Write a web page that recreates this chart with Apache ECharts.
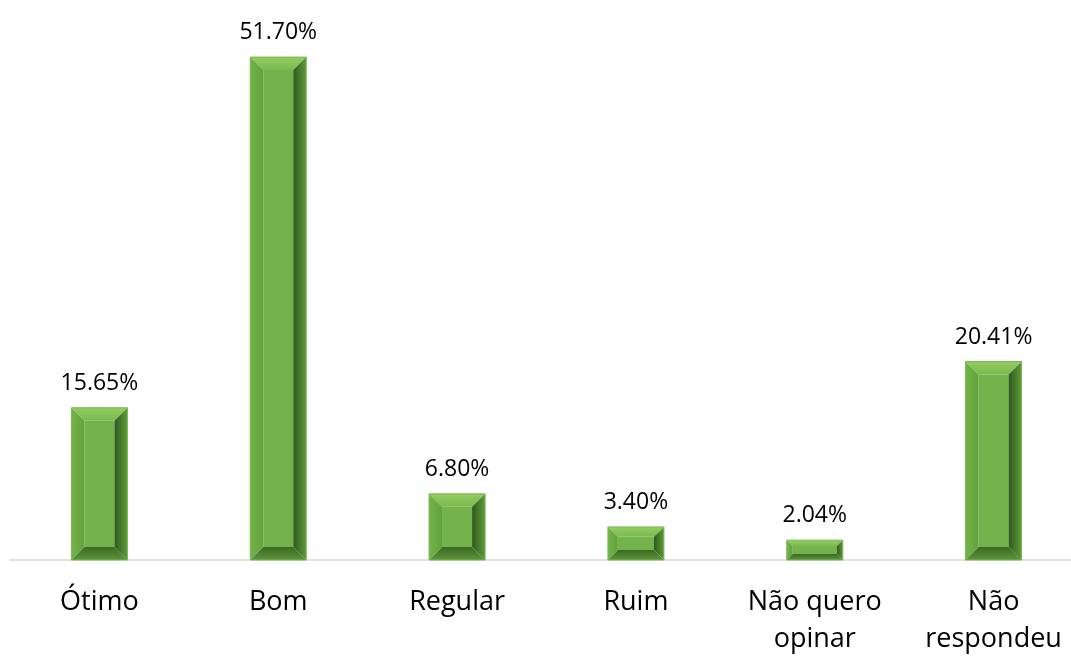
<!DOCTYPE html>
<html>
<head>
<meta charset="utf-8">
<script src="https://cdn.jsdelivr.net/npm/echarts@6/dist/echarts.min.js"></script>
<style>
  html, body { margin: 0; padding: 0; background: #fff; }
  #chart { width: 1071px; height: 657px; }
</style>
</head>
<body>
<div id="chart"></div>
<script>
// categorias e valores (%)
const categories = ['Ótimo', 'Bom', 'Regular', 'Ruim', 'Não quero\nopinar', 'Não\nrespondeu']
const values = [15.65, 51.70, 6.80, 3.40, 2.04, 20.41]
const valueLabels = ['15.65%', '51.70%', '6.80%', '3.40%', '2.04%', '20.41%']

const FONT = '"Open Sans", Lato, sans-serif'
const grad = (x, y, x2, y2, c1, c2) =>
  new echarts.graphic.LinearGradient(x, y, x2, y2, [
    { offset: 0, color: c1 },
    { offset: 1, color: c2 }
  ])

// barra com efeito de chanfro (bevel)
function renderBar(params, api) {
  const base = api.coord([api.value(0), 0])
  const top = api.coord([api.value(0), api.value(1)])
  const w = 56
  const x0 = base[0] - w / 2
  const x1 = x0 + w
  const y0 = top[1]
  const y1 = base[1]
  const h = y1 - y0
  const b = Math.min(13, h * 0.3)
  return {
    type: 'group',
    children: [
      {
        type: 'rect',
        shape: { x: x0 + b, y: y0 + b, width: w - 2 * b, height: h - 2 * b },
        style: { fill: '#74b24b' }
      },
      {
        type: 'polygon',
        shape: { points: [[x0, y0], [x1, y0], [x1 - b, y0 + b], [x0 + b, y0 + b]] },
        style: { fill: grad(0, 0, 0, 1, '#93cd63', '#7ab94e') }
      },
      {
        type: 'polygon',
        shape: { points: [[x0, y0], [x0 + b, y0 + b], [x0 + b, y1 - b], [x0, y1]] },
        style: { fill: grad(0, 0, 1, 0, '#74b34a', '#62a23b') }
      },
      {
        type: 'polygon',
        shape: { points: [[x1, y0], [x1 - b, y0 + b], [x1 - b, y1 - b], [x1, y1]] },
        style: { fill: grad(0, 0, 1, 0, '#2f5a1c', '#5f9b3b') }
      },
      {
        type: 'polygon',
        shape: { points: [[x0, y1], [x1, y1], [x1 - b, y1 - b], [x0 + b, y1 - b]] },
        style: { fill: grad(0, 0, 0, 1, '#3c6a25', '#5c9538') }
      },
      {
        type: 'rect',
        shape: { x: x0, y: y0, width: w, height: h },
        style: { fill: 'none', stroke: '#78b651', lineWidth: 1 }
      },
      {
        type: 'text',
        style: {
          text: valueLabels[params.dataIndex],
          x: base[0],
          y: y0 - 13,
          align: 'center',
          verticalAlign: 'bottom',
          font: '23px ' + FONT,
          fill: '#000'
        }
      }
    ]
  }
}

const chart = echarts.init(document.getElementById('chart'))
chart.setOption({
  animation: false,
  grid: { left: 10, right: -12, top: 25, bottom: 97, outerBoundsMode: 'none', containLabel: false },
  xAxis: {
    type: 'category',
    data: categories,
    axisTick: { show: false },
    axisLine: { lineStyle: { color: '#d9d9d9', width: 1.5 } },
    axisLabel: {
      interval: 0,
      margin: 24,
      color: '#000',
      fontSize: 27,
      fontFamily: FONT,
      lineHeight: 37
    }
  },
  yAxis: {
    type: 'value',
    min: 0,
    max: 55,
    show: false,
    splitLine: { show: false }
  },
  series: [
    {
      type: 'custom',
      renderItem: renderBar,
      data: values.map((v, i) => [i, v])
    }
  ]
})
</script>
</body>
</html>
